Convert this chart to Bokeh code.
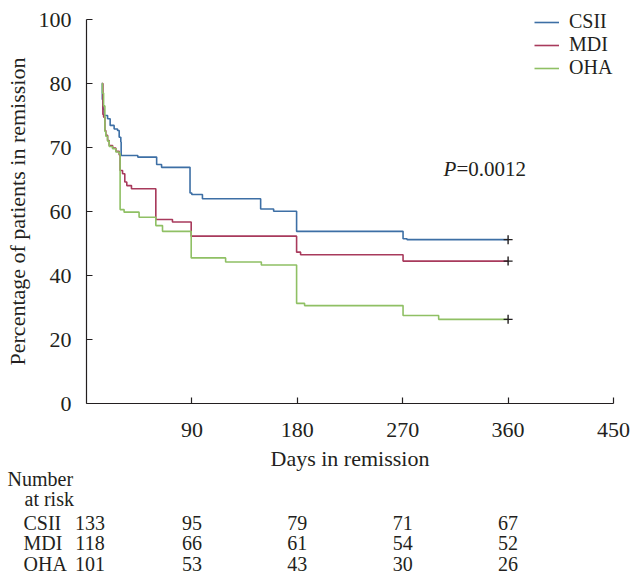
from bokeh.plotting import figure
from bokeh.models import Range1d, FixedTicker, Label, Legend, LegendItem
from bokeh.core.properties import value
from bokeh.embed import file_html
from bokeh.resources import INLINE

# ---------------- data ----------------
groups = ["CSII", "MDI", "OHA"]
colors = ["#3d6fa5", "#a83a5c", "#8fc064"]

csii_days = [13.1, 13.5, 14.0, 15.1, 18.0, 20.2, 23.6, 26.5, 27.9, 29.3, 29.6, 43.8, 59.9, 64.1,
             88.4, 89.9, 99.0, 148.7, 159.8, 179.4, 270.3, 273.7, 360]
csii_surv = [100, 95, 92, 90.0, 89.0, 86.9, 85.8, 85.3, 83.2, 81.7, 77.5, 77.0, 74.7, 73.8,
             65.8, 65.3, 64.0, 60.8, 60.1, 53.8, 51.5, 51.2, 51.2]

mdi_days = [13.1, 14.0, 14.6, 15.7, 16.5, 18.0, 19.4, 22.3, 25.1, 27.9, 28.7, 30.8, 32.7, 34.4,
            38.4, 59.2, 73.4, 89.4, 179.4, 182.8, 270.3, 360]
mdi_surv = [100, 90.3, 89.5, 85.3, 83.8, 82.2, 80.6, 79.8, 78.8, 77.7, 72.8, 71.8, 69.2, 68.1,
            67.1, 57.5, 56.7, 52.3, 47.3, 46.5, 44.5, 44.5]

oha_days = [13.1, 13.6, 14.6, 15.7, 16.5, 18.0, 19.4, 22.3, 25.1, 27.9, 28.7, 32.1, 44.9, 59.2,
            64.9, 89.4, 118.8, 149.3, 179.4, 186.2, 270.3, 300.7, 360]
oha_surv = [100, 97, 93, 85.0, 83.5, 82.0, 80.3, 79.6, 78.6, 78.1, 60.6, 59.8, 58.2, 55.6,
            53.8, 45.5, 44.2, 43.3, 31.3, 30.6, 27.5, 26.3, 26.3]

x_ticks = [90, 180, 270, 360, 450]
y_tick_pos = [0, 20, 40, 60, 80, 100, 120]
y_tick_labels = ["0", "20", "40", "60", "70", "80", "100"]

risk_days = [0, 90, 180, 270, 360]
csii_risk = [133, 95, 79, 71, 67]
mdi_risk = [118, 66, 61, 54, 52]
oha_risk = [101, 53, 43, 30, 26]

p_text = "=0.0012"

# ---------------- layout (pixel geometry of the canvas) ----------------
FONT = "Liberation Serif"
TXT = "#231f20"
W, H = 638, 575
X_LO, X_HI = 0, 450          # day axis extent
Y_LO, Y_HI = 0, 120          # plotted axis extent
AX_LEFT, AX_RIGHT = 86, 613  # canvas x of day 0 / day 450
AX_TOP, AX_BOT = 19, 403     # canvas y of top / bottom of value axis

kx = (AX_RIGHT - AX_LEFT) / (X_HI - X_LO)
ky = (AX_BOT - AX_TOP) / (Y_HI - Y_LO)
x_start = X_LO - AX_LEFT / kx
x_end = x_start + W / kx
y_end = Y_HI + AX_TOP / ky
y_start = y_end - H / ky

def cx(px):   # canvas x -> data x
    return x_start + px / kx

def cy(py):   # canvas y -> data y
    return y_end - py / ky

p = figure(width=W, height=H, x_range=Range1d(x_start, x_end), y_range=Range1d(y_start, y_end),
           output_backend="svg", toolbar_location=None,
           min_border_left=0, min_border_right=0, min_border_top=0, min_border_bottom=0)
p.outline_line_color = None
p.grid.visible = False

series = [(csii_days, csii_surv), (mdi_days, mdi_surv), (oha_days, oha_surv)]
items = []
for (d, s), g, c in zip(series, groups, colors):
    r = p.step(d, s, mode="after", line_color=c, line_width=1.6)
    items.append(LegendItem(label=g, renderers=[r]))
    p.scatter([d[-1]], [s[-1]], marker="cross", size=9, line_color=TXT, line_width=1.4)

legend = Legend(items=items, location=(534, 496), padding=0, margin=0,
                border_line_color=None, background_fill_alpha=0,
                glyph_width=25, glyph_height=20, label_height=20, spacing=0,
                label_standoff=10, label_text_font=FONT, label_text_font_size="20px",
                label_text_color=TXT)
p.add_layout(legend)

# axes, pinned at the data origin
for ax in (p.xaxis[0], p.yaxis[0]):
    ax.fixed_location = 0
    ax.axis_line_color = TXT
    ax.axis_line_width = 1.2
    ax.major_tick_line_color = TXT
    ax.major_tick_line_width = 1.2
    ax.major_tick_in = 6
    ax.major_tick_out = 0
    ax.minor_tick_line_color = None
    ax.major_label_text_font = FONT
    ax.major_label_text_font_size = "22px"
    ax.major_label_text_color = TXT
    ax.axis_label_text_font = FONT
    ax.axis_label_text_font_size = "22px"
    ax.axis_label_text_font_style = "normal"
    ax.axis_label_text_color = TXT

p.xaxis.bounds = (X_LO, X_HI)
p.xaxis.ticker = FixedTicker(ticks=x_ticks)
p.xaxis.axis_label = "Days in remission"
p.xaxis.major_label_standoff = 19
p.xaxis.axis_label_standoff = 6

p.yaxis.bounds = (Y_LO, Y_HI)
p.yaxis.ticker = FixedTicker(ticks=y_tick_pos)
p.yaxis.major_label_overrides = {k: v for k, v in zip(y_tick_pos, y_tick_labels)}
p.yaxis.axis_label = "Percentage of patients in remission"
p.yaxis.major_label_standoff = 15
p.yaxis.axis_label_standoff = 6

# P value annotation
p.add_layout(Label(x=cx(443), y=cy(168.3), text="P", text_font=FONT, text_font_size="21px",
                   text_font_style="italic", text_color=TXT, text_baseline="alphabetic"))
p.add_layout(Label(x=cx(443), y=cy(168.3), x_offset=13, text=p_text, text_font=FONT,
                   text_font_size="21px", text_color=TXT, text_baseline="alphabetic"))

# ---------------- number at risk table ----------------
common = dict(text_font=value(FONT), text_font_size=value("20px"), text_color=TXT,
              text_baseline="alphabetic")
p.text(x=[cx(7), cx(24)], y=[cy(478), cy(498)], text=["Number", "at risk"],
       text_align="left", **common)
row_py = [522, 542, 563]
for g, py, risk in zip(groups, row_py, [csii_risk, mdi_risk, oha_risk]):
    p.text(x=[cx(23)], y=[cy(py)], text=[g], text_align="left", **common)
    p.text(x=risk_days, y=[cy(py)] * len(risk_days), text=[str(v) for v in risk],
           text_align="center", x_offset=[3.5] + [0] * (len(risk_days) - 1), **common)

open("out.html", "w").write(file_html(p, INLINE))
